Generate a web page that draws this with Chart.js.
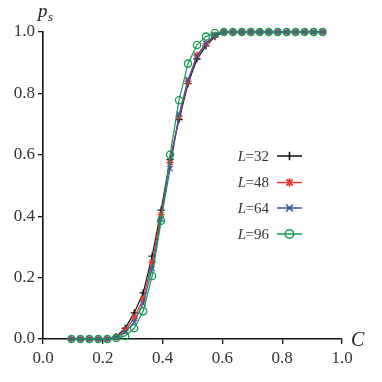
<!DOCTYPE html>
<html>
<head>
<meta charset="utf-8">
<script src="https://cdn.jsdelivr.net/npm/chart.js@4/dist/chart.umd.min.js"></script>
<style>
html,body{margin:0;padding:0;background:#fff;}
#wrap{width:382px;height:382px;position:relative;}
</style>
</head>
<body>
<div id="wrap"><canvas id="c" width="382" height="382"></canvas></div>
<script>
const concentrations = [0.095,0.125,0.155,0.185,0.215,0.245,0.275,0.305,0.335,0.365,0.395,0.425,0.455,0.485,0.515,0.545,0.575,0.605,0.635,0.665,0.695,0.725,0.755,0.785,0.815,0.845,0.875,0.905,0.935];
const seriesLabels = ['32','48','64','96'];
const ps32 = [0,0,0,0,0,0.008,0.035,0.085,0.15,0.27,0.42,0.585,0.715,0.832,0.912,0.955,0.985,1,1,1,1,1,1,1,1,1,1,1,1];
const ps48 = [0,0,0,0,0,0.006,0.028,0.068,0.13,0.25,0.405,0.575,0.725,0.84,0.925,0.962,0.99,1,1,1,1,1,1,1,1,1,1,1,1];
const ps64 = [0,0,0,0,0,0.005,0.022,0.055,0.115,0.23,0.39,0.555,0.732,0.845,0.92,0.963,0.99,1,1,1,1,1,1,1,1,1,1,1,1];
const ps96 = [0,0,0,0,0,0.003,0.01,0.035,0.09,0.205,0.385,0.60,0.778,0.897,0.958,0.985,0.997,1,1,1,1,1,1,1,1,1,1,1,1];
const axisTicks = [0,0.2,0.4,0.6,0.8,1.0];

const colors = ['#111111','#e8392c','#3d56a8','#159a52'];
const markers = ['cross','star','crossRot','circle'];
const seriesValues = [ps32, ps48, ps64, ps96];

const datasets = seriesValues.map((vals, i) => ({
  label: seriesLabels[i],
  data: concentrations.map((c, j) => ({x: c, y: vals[j]})),
  borderColor: colors[i],
  backgroundColor: 'rgba(0,0,0,0)',
  pointBorderColor: colors[i],
  pointBackgroundColor: 'rgba(0,0,0,0)',
  pointStyle: markers[i],
  pointRadius: 3.6,
  pointBorderWidth: 1.3,
  borderWidth: 1.2,
  tension: 0,
  clip: false,
  order: 4 - i
}));

const serif = '"Liberation Serif","DejaVu Serif",serif';

function drawMarker(ctx, style, x, y, r) {
  if (style === 'cross') {
    ctx.moveTo(x - r, y); ctx.lineTo(x + r, y);
    ctx.moveTo(x, y - r); ctx.lineTo(x, y + r);
  } else if (style === 'crossRot') {
    const d = r * 0.8;
    ctx.moveTo(x - d, y - d); ctx.lineTo(x + d, y + d);
    ctx.moveTo(x - d, y + d); ctx.lineTo(x + d, y - d);
  } else if (style === 'star') {
    const d = r * 0.75;
    ctx.moveTo(x - r, y); ctx.lineTo(x + r, y);
    ctx.moveTo(x, y - r); ctx.lineTo(x, y + r);
    ctx.moveTo(x - d, y - d); ctx.lineTo(x + d, y + d);
    ctx.moveTo(x - d, y + d); ctx.lineTo(x + d, y - d);
  } else {
    ctx.moveTo(x + r, y);
    ctx.arc(x, y, r, 0, Math.PI * 2);
  }
}

const overlay = {
  id: 'overlay',
  afterDraw(chart) {
    const ctx = chart.ctx;
    ctx.save();
    ctx.fillStyle = '#222';
    ctx.textBaseline = 'alphabetic';
    ctx.textAlign = 'left';
    ctx.font = 'italic 19px ' + serif;
    ctx.fillText('p', 38, 17);
    ctx.font = 'italic 13px ' + serif;
    ctx.fillText('s', 48, 21);
    ctx.font = 'italic 20px ' + serif;
    ctx.fillText('C', 351, 346);
    const ys = [156, 182.5, 208, 234];
    chart.data.datasets.forEach((ds, i) => {
      const y = ys[i];
      const xr = 269;
      ctx.font = '15px ' + serif;
      const numW = ctx.measureText('=' + ds.label).width;
      ctx.fillStyle = '#333';
      ctx.textAlign = 'left';
      ctx.textBaseline = 'middle';
      ctx.fillText('=' + ds.label, xr - numW, y + 1);
      ctx.font = 'italic 15px ' + serif;
      const lW = ctx.measureText('L').width;
      ctx.fillText('L', xr - numW - lW + 0.5, y + 1);
      ctx.strokeStyle = ds.borderColor;
      ctx.lineWidth = 1.6;
      ctx.beginPath();
      ctx.moveTo(277, y);
      ctx.lineTo(302, y);
      drawMarker(ctx, ds.pointStyle, 289.5, y, 4.2);
      ctx.stroke();
    });
    ctx.restore();
  }
};

const tickFont = {family: serif, size: 17};

new Chart(document.getElementById('c'), {
  type: 'line',
  data: {datasets},
  options: {
    responsive: false,
    animation: false,
    devicePixelRatio: 1,
    layout: {padding: {top: 32, right: 40, left: 0, bottom: 0}},
    plugins: {legend: {display: false}, tooltip: {enabled: false}},
    scales: {
      x: {
        type: 'linear', min: 0, max: 1,
        afterBuildTicks(s) { s.ticks = axisTicks.map(v => ({value: v})); },
        afterFit(s) { s.height = 43; },
        grid: {drawOnChartArea: false, drawTicks: true, tickLength: 5, color: '#111', lineWidth: 1.3},
        border: {display: true, color: '#111', width: 1.6},
        ticks: {font: tickFont, color: '#333', padding: 4, maxRotation: 0, callback: v => Number(v).toFixed(1)}
      },
      y: {
        type: 'linear', min: 0, max: 1,
        afterBuildTicks(s) { s.ticks = axisTicks.map(v => ({value: v})); },
        afterFit(s) { s.width = 43; },
        grid: {drawOnChartArea: false, drawTicks: true, tickLength: 5, color: '#111', lineWidth: 1.3},
        border: {display: true, color: '#111', width: 1.6},
        ticks: {font: tickFont, color: '#333', padding: 3, callback: v => Number(v).toFixed(1)}
      }
    }
  },
  plugins: [overlay]
});
</script>
</body>
</html>
